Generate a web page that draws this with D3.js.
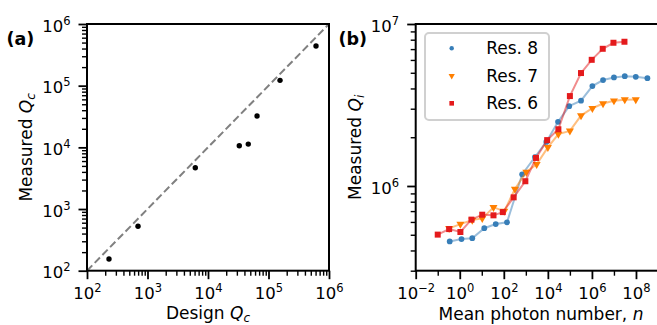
<!DOCTYPE html>
<html>
<head>
<meta charset="utf-8">
<script src="https://cdn.jsdelivr.net/npm/d3@7"></script>
<style>
body { margin: 0; background: #fff; }
text { font-family: "DejaVu Sans", sans-serif; fill: #000; }
</style>
</head>
<body>
<svg id="fig" width="657" height="325"></svg>
<script>
// panel (a): design vs measured coupling Q
var designQc   = [231, 697, 6170, 32900, 46300, 64600, 155000, 610000];
var measuredQc = [155, 525, 4680, 10600, 11300, 32200, 122000, 440000];

// panel (b): internal Q vs photon number
var nRes8  = [0.35, 1.2, 3.7, 13, 43, 140, 680, 2600, 8500, 29000, 93000, 320000, 1.05e6, 3.2e6, 1.0e7, 3.1e7, 9.8e7, 3.3e8];
var qiRes8 = [455e3, 470e3, 476e3, 549e3, 582e3, 597e3, 1.18e6, 1.51e6, 1.87e6, 2.49e6, 3.11e6, 3.36e6, 4.14e6, 4.51e6, 4.68e6, 4.76e6, 4.72e6, 4.63e6];
var nRes7  = [0.33, 1.07, 3.7, 10.5, 34, 105, 320, 1050, 3100, 10000, 30000, 100000, 320000, 1.05e6, 3.2e6, 1.0e7, 3.1e7, 9.8e7];
var qiRes7 = [547e3, 582e3, 616e3, 631e3, 738e3, 700e3, 958e3, 1.22e6, 1.36e6, 1.73e6, 2.09e6, 2.19e6, 2.72e6, 3.02e6, 3.23e6, 3.36e6, 3.41e6, 3.42e6];
var nRes6  = [0.1, 0.33, 1.07, 3.4, 10.5, 34, 90, 280, 950, 2900, 9300, 30000, 100000, 320000, 980000, 3.1e6, 9.5e6, 3.0e7];
var qiRes6 = [501e3, 542e3, 520e3, 620e3, 665e3, 659e3, 690e3, 851e3, 1.07e6, 1.49e6, 1.92e6, 2.24e6, 3.59e6, 4.98e6, 6.01e6, 7.03e6, 7.66e6, 7.77e6];

var seriesNames = ["Res. 8", "Res. 7", "Res. 6"];
var seriesColors = ["#377eb8", "#ff7f00", "#e41a1c"];

// ticks
var ticksA  = [1e2, 1e3, 1e4, 1e5, 1e6];
var xTicksB = [1e-2, 1e0, 1e2, 1e4, 1e6, 1e8];
var yTicksB = [1e6, 1e7];

var fs = 17, tickFs = 16.5, supFs = 11.5;
var svg = d3.select("#fig");

function isPow10(v) {
    var e = Math.log10(v);
    return Math.abs(e - Math.round(e)) < 1e-6;
}

// write 10^k into an axis label
function powLabel(text) {
    text.each(function(d) {
	var t = d3.select(this).text(""),
	    e = Math.round(Math.log10(d));
	t.append("tspan").text("10");
	t.append("tspan").attr("dy", -7).attr("font-size", supFs)
	    .text(e < 0 ? "\u2212" + (-e) : e);
    });
}

function styleAxis(g, width) {
    g.select(".domain").remove();
    g.selectAll("line").attr("stroke", "#000").attr("stroke-width", width);
}

function drawAxes(x, y, xMajor, xMinor, yMajor, yMinor) {
    var x0 = x.range()[0], y0 = y.range()[0];
    var gx = svg.append("g").attr("transform", "translate(0," + y0 + ")");
    gx.append("g").call(d3.axisBottom(x).tickValues(xMinor).tickSize(5).tickFormat(""))
	.call(styleAxis, 1.4);
    gx.append("g").call(d3.axisBottom(x).tickValues(xMajor).tickSize(8.5).tickPadding(8.5))
	.call(styleAxis, 1.8)
	.selectAll("text").attr("font-size", tickFs).attr("font-family", null).call(powLabel);

    var gy = svg.append("g").attr("transform", "translate(" + x0 + ",0)");
    gy.append("g").call(d3.axisLeft(y).tickValues(yMinor).tickSize(5).tickFormat(""))
	.call(styleAxis, 1.4);
    gy.append("g").call(d3.axisLeft(y).tickValues(yMajor).tickSize(8.5).tickPadding(8))
	.call(styleAxis, 1.8)
	.selectAll("text").attr("font-size", tickFs).attr("font-family", null)
	.attr("dy", "0.43em").call(powLabel);

    svg.append("rect")
	.attr("x", x0).attr("y", y.range()[1])
	.attr("width", x.range()[1] - x0).attr("height", y0 - y.range()[1])
	.attr("fill", "none").attr("stroke", "#000").attr("stroke-width", 2);
}

// label with italic symbol and subscript
function mathLabel(g, plain, sym, sub) {
    var t = g.append("text").attr("font-size", fs).attr("text-anchor", "middle");
    t.append("tspan").text(plain);
    t.append("tspan").attr("font-style", "italic").text(sym);
    if (sub) t.append("tspan").attr("font-style", "italic").attr("font-size", supFs + 0.5)
	.attr("dy", 3).text(sub);
    return t;
}

// ---------------- panel (a) ----------------
var xa = d3.scaleLog().domain([1e2, 1e6]).range([87, 329]);
var ya = d3.scaleLog().domain([1e2, 1e6]).range([270.7, 24]);

var minorA = xa.ticks().filter(function(v) { return !isPow10(v); });

svg.append("line")
    .attr("x1", xa(1e2)).attr("y1", ya(1e2))
    .attr("x2", xa(1e6)).attr("y2", ya(1e6))
    .attr("stroke", "#808080").attr("stroke-width", 2)
    .attr("stroke-dasharray", "7.5,3.5");

svg.append("g").selectAll("circle")
    .data(designQc)
    .enter().append("circle")
    .attr("cx", function(d) { return xa(d); })
    .attr("cy", function(d, i) { return ya(measuredQc[i]); })
    .attr("r", 2.7)
    .attr("fill", "#000");

drawAxes(xa, ya, ticksA, minorA, ticksA, minorA);

mathLabel(svg, "Design ", "Q", "c")
    .attr("x", (xa.range()[0] + xa.range()[1]) / 2).attr("y", 318.5);
mathLabel(svg, "Measured ", "Q", "c")
    .attr("transform", "translate(32," + (ya.range()[0] + ya.range()[1]) / 2 + ") rotate(-90)");

svg.append("text").attr("x", 6.5).attr("y", 45)
    .attr("font-size", 17.5).attr("font-weight", "bold").text("(a)");

// ---------------- panel (b) ----------------
var xb = d3.scaleLog().domain([1e-2, 1e9]).range([415.7, 658]);
var yb = d3.scaleLog().domain([3e5, 1e7]).range([270.7, 24]);

var xMinorB = [1e-1, 1e1, 1e3, 1e5, 1e7];
var yMinorB = yb.ticks().filter(function(v) { return !isPow10(v); });

var series = [
    {name: seriesNames[0], color: seriesColors[0], n: nRes8, q: qiRes8, shape: d3.symbolCircle, size: 26},
    {name: seriesNames[1], color: seriesColors[1], n: nRes7, q: qiRes7, shape: d3.symbolTriangle, size: 28},
    {name: seriesNames[2], color: seriesColors[2], n: nRes6, q: qiRes6, shape: d3.symbolSquare, size: 36}
];

var line = d3.line()
    .x(function(d) { return xb(d[0]); })
    .y(function(d) { return yb(d[1]); });

series.forEach(function(s) {
    var pts = s.n.map(function(v, i) { return [v, s.q[i]]; });
    var g = svg.append("g");
    g.append("path")
	.datum(pts)
	.attr("d", line)
	.attr("fill", "none")
	.attr("stroke", s.color)
	.attr("stroke-opacity", 0.5)
	.attr("stroke-width", 2);
    // triangles point down
    var rot = s.shape === d3.symbolTriangle ? " rotate(180)" : "";
    g.selectAll(".pt")
	.data(pts)
	.enter().append("path")
	.attr("class", "pt")
	.attr("transform", function(d) { return "translate(" + xb(d[0]) + "," + yb(d[1]) + ")" + rot; })
	.attr("d", d3.symbol().type(s.shape).size(s.size))
	.attr("fill", s.color);
});

drawAxes(xb, yb, xTicksB, xMinorB, yTicksB, yMinorB);

mathLabel(svg, "Mean photon number, ", "n")
    .attr("x", 541).attr("y", 319.5);
mathLabel(svg, "Measured ", "Q", "i")
    .attr("transform", "translate(361," + (yb.range()[0] + yb.range()[1]) / 2 + ") rotate(-90)");

svg.append("text").attr("x", 338.5).attr("y", 45)
    .attr("font-size", 17.5).attr("font-weight", "bold").text("(b)");

// legend
var legend = svg.append("g").attr("transform", "translate(425,33)");
legend.append("rect")
    .attr("width", 124).attr("height", 87).attr("rx", 4)
    .attr("fill", "#fff").attr("fill-opacity", 0.8)
    .attr("stroke", "#d0d0d0").attr("stroke-width", 2);

series.forEach(function(s, i) {
    var row = legend.append("g").attr("transform", "translate(26.7," + (15.3 + i * 27.5) + ")");
    row.append("path")
	.attr("transform", s.shape === d3.symbolTriangle ? "rotate(180)" : null)
	.attr("d", d3.symbol().type(s.shape).size(s.size * 0.6))
	.attr("fill", s.color);
    row.append("text").attr("x", 34.5).attr("y", 6)
	.attr("font-size", fs).text(s.name);
});
</script>
</body>
</html>
